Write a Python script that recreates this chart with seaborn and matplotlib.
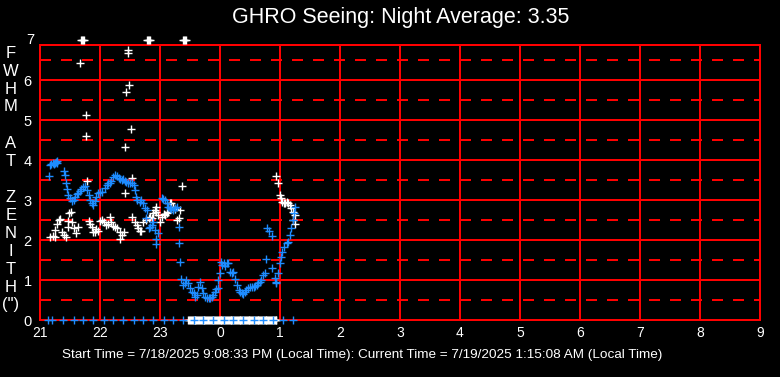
import numpy as np
import pandas as pd
import matplotlib
matplotlib.use("Agg")
import matplotlib.pyplot as plt
import seaborn as sns

# blue series (hour of night, 24+ = after midnight) and FWHM
blue_hours = [21.155, 21.17, 21.18, 21.21, 21.23, 21.25, 21.26, 21.28, 21.29, 21.40, 21.42,
              21.44, 21.45, 21.47, 21.50, 21.53, 21.56, 21.58, 21.61, 21.64, 21.67, 21.69,
              21.72, 21.75, 21.78, 21.81, 21.83, 21.86, 21.89, 21.92, 21.94, 21.97, 22.00,
              22.04, 22.08, 22.11, 22.14, 22.17, 22.19, 22.22, 22.25, 22.28, 22.31, 22.33,
              22.36, 22.39, 22.42, 22.44, 22.47, 22.50, 22.53, 22.56, 22.58, 22.60, 22.62,
              22.66, 22.69, 22.72, 22.75, 22.78, 22.77, 22.81, 22.83, 22.86, 22.89, 22.92,
              22.93, 22.94, 22.97, 23.03, 23.05, 23.08, 23.11, 23.14, 23.17, 23.19, 23.22,
              23.25, 23.28, 23.31, 23.32, 23.34, 23.35, 23.39, 23.42, 23.44, 23.47, 23.50,
              23.53, 23.56, 23.58, 23.61, 23.64, 23.67, 23.70, 23.72, 23.75, 23.78, 23.81,
              23.83, 23.86, 23.89, 23.92, 23.94, 23.97, 23.97, 24.00, 24.02, 24.04, 24.06,
              24.08, 24.11, 24.14, 24.17, 24.20, 24.22, 24.25, 24.28, 24.31, 24.33, 24.36,
              24.39, 24.42, 24.44, 24.47, 24.50, 24.53, 24.56, 24.58, 24.61, 24.64, 24.67,
              24.69, 24.72, 24.75, 24.76, 24.78, 24.81, 24.86, 24.87, 24.91, 24.93, 24.94,
              24.97, 25.00, 25.02, 25.04, 25.07, 25.11, 25.14, 25.17, 25.19, 25.21, 25.23,
              25.25]
blue_fwhm = [3.60, 3.88, 3.90, 3.92, 3.90, 3.93, 3.95, 3.97, 3.93, 3.72, 3.62,
             3.42, 3.27, 3.12, 3.04, 2.98, 3.00, 3.08, 3.15, 3.18, 3.23, 3.27,
             3.32, 3.35, 3.25, 3.12, 3.00, 2.92, 2.88, 2.98, 3.08, 3.18, 3.21,
             3.21, 3.29, 3.38, 3.42, 3.43, 3.48, 3.57, 3.62, 3.60, 3.54, 3.52,
             3.50, 3.52, 3.48, 3.46, 3.42, 3.42, 3.43, 3.38, 3.25, 3.08, 3.00,
             2.96, 3.00, 2.92, 2.79, 2.75, 2.54, 2.29, 2.33, 2.38, 2.46, 2.25,
             2.02, 1.90, 2.18, 3.04, 3.02, 3.00, 2.92, 2.83, 2.79, 2.77, 2.75,
             2.79, 2.83, 2.32, 1.92, 1.44, 1.02, 0.88, 0.92, 1.00, 0.92, 0.79,
             0.71, 0.67, 0.58, 0.63, 0.83, 0.96, 0.79, 0.67, 0.58, 0.54, 0.54,
             0.54, 0.58, 0.63, 0.71, 0.77, 0.79, 1.00, 1.18, 1.46, 1.37, 1.42,
             1.35, 1.42, 1.43, 1.21, 1.17, 1.21, 1.02, 0.88, 0.75, 0.71, 0.67,
             0.65, 0.71, 0.75, 0.79, 0.83, 0.82, 0.83, 0.85, 0.88, 0.92, 0.96,
             1.00, 1.13, 1.17, 1.52, 2.29, 2.23, 2.10, 1.29, 1.04, 0.96, 0.92,
             1.17, 1.42, 1.58, 1.71, 1.83, 1.92, 1.96, 2.13, 2.29, 2.49, 2.67,
             2.83]
blue_zero_hours = [21.14, 21.20, 21.39, 21.56, 21.72, 21.89, 22.06, 22.22, 22.39, 22.56,
                   22.72, 22.89, 23.06, 23.22, 23.39, 23.56, 23.72, 23.89, 24.06, 24.22,
                   24.39, 24.56, 24.72, 24.89, 25.05, 25.22]

# white series
white_hours = [21.17, 21.21, 21.25, 21.25, 21.28, 21.31, 21.33, 21.36, 21.40, 21.43, 21.46,
               21.47, 21.49, 21.51, 21.54, 21.56, 21.60, 21.64, 21.66, 21.68, 21.70, 21.72,
               21.74, 21.76, 21.77, 21.79, 21.81, 21.83, 21.86, 21.88, 21.92, 21.94, 21.97,
               22.00, 22.03, 22.07, 22.10, 22.14, 22.17, 22.18, 22.21, 22.25, 22.29, 22.33,
               22.33, 22.36, 22.40, 22.42, 22.42, 22.44, 22.46, 22.47, 22.49, 22.51, 22.53,
               22.54, 22.58, 22.61, 22.64, 22.66, 22.69, 22.72, 22.77, 22.78, 22.80, 22.82,
               22.84, 22.81, 22.83, 22.86, 22.89, 22.92, 22.93, 22.94, 22.97, 23.00, 23.03,
               23.06, 23.08, 23.11, 23.14, 23.17, 23.19, 23.22, 23.25, 23.28, 23.31, 23.33,
               23.36, 23.38, 23.40, 23.42, 23.44, 24.94, 24.97, 25.00, 25.01, 25.03, 25.06,
               25.08, 25.11, 25.14, 25.17, 25.19, 25.22, 25.22, 25.25, 25.25]
white_fwhm = [2.07, 2.10, 2.07, 2.25, 2.40, 2.50, 2.52, 2.21, 2.13, 2.07, 2.32,
              2.48, 2.67, 2.71, 2.46, 2.29, 2.17, 2.32, 6.42, 7.0, 7.0, 7.0,
              7.0, 5.12, 4.59, 3.48, 2.48, 2.40, 2.33, 2.21, 2.21, 2.27, 2.23,
              2.48, 2.50, 2.46, 2.38, 2.40, 2.58, 2.46, 2.35, 2.33, 2.29, 2.21,
              2.02, 2.13, 2.19, 3.17, 4.32, 5.69, 6.67, 6.75, 5.87, 4.77, 3.54,
              2.57, 2.44, 2.38, 2.31, 2.23, 2.23, 2.46, 2.50, 7.0, 7.0, 7.0,
              7.0, 2.54, 2.58, 2.54, 2.67, 2.75, 2.82, 2.71, 2.62, 2.46, 2.58,
              2.65, 2.62, 2.67, 2.71, 2.92, 2.93, 2.83, 2.77, 2.50, 2.54, 2.75,
              3.35, 7.0, 7.0, 7.0, 7.0, 3.60, 3.43, 3.13, 3.04, 2.96, 2.92,
              2.93, 2.96, 2.92, 2.88, 2.79, 2.71, 2.50, 2.62, 2.40]
# white readings that came back as 0 (dense run after 23:28)
white_zero_hours = [23.470, 23.485, 23.500, 23.515, 23.530, 23.545, 23.560, 23.575, 23.590,
                    23.605, 23.620, 23.635, 23.650, 23.665, 23.680, 23.695, 23.710, 23.725,
                    23.740, 23.755, 23.770, 23.785, 23.800, 23.815, 23.830, 23.845, 23.860,
                    23.875, 23.890, 23.905, 23.920, 23.935, 23.950, 23.965, 23.980, 23.995,
                    24.010, 24.025, 24.040, 24.055, 24.070, 24.085, 24.100, 24.115, 24.130,
                    24.145, 24.160, 24.175, 24.190, 24.205, 24.220, 24.235, 24.250, 24.265,
                    24.280, 24.295, 24.310, 24.325, 24.340, 24.355, 24.370, 24.385, 24.400,
                    24.415, 24.430, 24.445, 24.460, 24.475, 24.490, 24.505, 24.520, 24.535,
                    24.550, 24.565, 24.580, 24.595, 24.610, 24.625, 24.640, 24.655, 24.670,
                    24.685, 24.700, 24.715, 24.730, 24.745, 24.760, 24.775, 24.790, 24.805,
                    24.820, 24.835, 24.850, 24.865, 24.880, 24.895, 24.910, 24.925, 24.940]

hour_ticks = list(range(21, 34))
hour_labels = ['21', '22', '23', '0', '1', '2', '3', '4', '5', '6', '7', '8', '9']
ylabel_letters = ['F', 'W', 'H', 'M', '', 'A', 'T', '', 'Z', 'E', 'N', 'I', 'T', 'H', '(")']

title = 'GHRO Seeing: Night Average: 3.35'
footer = ('Start Time = 7/18/2025 9:08:33 PM (Local Time): '
          'Current Time = 7/19/2025 1:15:08 AM (Local Time)')

BLUE = '#1e8cff'
RED = '#ff0000'

sns.set_style('dark', {'axes.facecolor': 'black', 'figure.facecolor': 'black'})
plt.rcParams['font.family'] = ['Liberation Sans', 'DejaVu Sans']
plt.rcParams['lines.scale_dashes'] = False

W, H = 780, 377
fig = plt.figure(figsize=(W / 100, H / 100), dpi=100)
ax = fig.add_axes([40 / W, 57 / H, 720 / W, 275 / H])
ax.set_facecolor('black')

df_white = pd.DataFrame({'hour': white_hours + white_zero_hours,
                         'fwhm': white_fwhm + [0.0] * len(white_zero_hours)})
df_blue = pd.DataFrame({'hour': blue_hours + blue_zero_hours,
                        'fwhm': blue_fwhm + [0.0] * len(blue_zero_hours)})

sns.scatterplot(data=df_white, x='hour', y='fwhm', marker='+', color='white',
                s=28, linewidth=1.0, ax=ax, clip_on=False, zorder=3)
sns.scatterplot(data=df_blue, x='hour', y='fwhm', marker='+', color=BLUE,
                s=28, linewidth=1.0, ax=ax, clip_on=False, zorder=4)

ax.set_xlim(21, 33)
ax.set_ylim(0, 6.875)
ax.set_xticks(hour_ticks)
ax.set_xticklabels(hour_labels)
ax.set_yticks(range(0, 7))
ax.set_yticks(np.arange(0.5, 7, 1.0), minor=True)
ax.tick_params(axis='both', which='both', length=0, colors='white')
ax.tick_params(axis='x', labelsize=10, pad=4)
ax.tick_params(axis='y', labelsize=10.5, pad=6)
# the "7" label sits on the line above the frame
ax.text(-6 / 720, 7, '7', transform=ax.get_yaxis_transform(), ha='right',
        va='center', color='white', fontsize=10.5)

ax.grid(True, which='major', axis='both', color=RED, linewidth=1.1, linestyle='-',
        antialiased=False)
ax.grid(True, which='minor', axis='y', color=RED, linewidth=1.1,
        linestyle=(0, (7.2, 7.2)), antialiased=False)
ax.set_axisbelow(True)
for sp in ax.spines.values():
    sp.set_visible(True)
    sp.set_color(RED)
    sp.set_linewidth(1.1)
    sp.set_antialiased(False)
ax.set_xlabel('')
ax.set_ylabel('')

fig.text(401 / W, 1 - 17 / H, title, ha='center', va='center', color='white', fontsize=15.5)
for i, ch in enumerate(ylabel_letters):
    if ch:
        fig.text(11 / W, 1 - (53 + 18 * i) / H, ch, ha='center', va='center',
                 color='white', fontsize=12)
fig.text(362 / W, 1 - 355 / H, footer, ha='center', va='center', color='white', fontsize=9.7)

fig.savefig('out.png', dpi=100, facecolor='black')
